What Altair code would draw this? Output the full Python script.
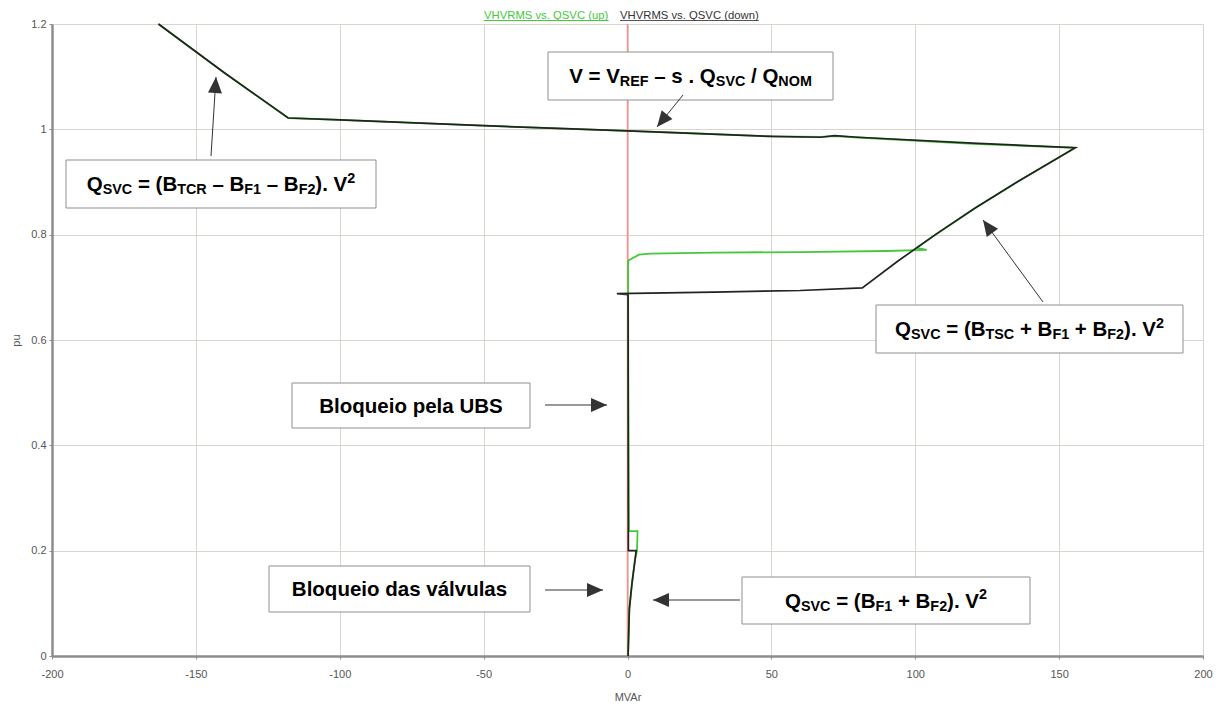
import math
import altair as alt
import pandas as pd

# ---------------- data ----------------
# "up" trajectory (green)
q_up = [0.2, 0.65, 1.6, 2.6, 3.3, 3.5, 0.5, 0.3, 0.2, 0.6, 4.0, 8.0, 30.0, 60.0, 90.0, 104.0,
        100.5, 107.0, 120.7, 135.4, 155.6, 120.0, 80.0, 72.0, 67.0, 50.0, 20.0, 0.0,
        -50.0, -100.0, -117.9, -140.0, -163.0]
v_up = [0.0, 0.09, 0.14, 0.182, 0.2, 0.237, 0.237, 0.5, 0.75, 0.752, 0.762, 0.764, 0.766, 0.767,
        0.769, 0.771, 0.775, 0.8, 0.85, 0.9, 0.965, 0.9725, 0.9845, 0.987, 0.9855, 0.9865, 0.993, 0.997,
        1.007, 1.018, 1.0215, 1.107, 1.2]

# "down" trajectory (black)
q_down = [-163.0, -140.0, -117.9, -100.0, -50.0, 0.0, 50.0, 67.0, 72.0, 80.0, 120.0, 155.6,
          135.4, 120.7, 107.0, 94.0, 81.6, 60.0, 30.0, -3.7, 0.2, 0.3, 3.0, 2.6, 1.6, 0.65, 0.2]
v_down = [1.2, 1.107, 1.0215, 1.018, 1.007, 0.997, 0.9866, 0.985, 0.988, 0.985, 0.974, 0.965,
          0.9, 0.85, 0.8, 0.75, 0.699, 0.694, 0.691, 0.688, 0.686, 0.2, 0.2, 0.182, 0.14, 0.09, 0.0]

x_ticks = [-200, -150, -100, -50, 0, 50, 100, 150, 200]
y_ticks = [0, 0.2, 0.4, 0.6, 0.8, 1.0, 1.2]

legend_labels = ["VHVRMS vs. QSVC (up)", "VHVRMS vs. QSVC (down)"]

# annotation texts: list of (text, kind) with kind in {"n","sub","sup"}
ann_texts = [
    [("V = V", "n"), ("REF", "sub"), (" \u2013 s . Q", "n"), ("SVC", "sub"), (" / Q", "n"), ("NOM", "sub")],
    [("Q", "n"), ("SVC", "sub"), (" = (B", "n"), ("TCR", "sub"), (" \u2013 B", "n"), ("F1", "sub"),
     (" \u2013 B", "n"), ("F2", "sub"), ("). V", "n"), ("2", "sup")],
    [("Q", "n"), ("SVC", "sub"), (" = (B", "n"), ("TSC", "sub"), (" + B", "n"), ("F1", "sub"),
     (" + B", "n"), ("F2", "sub"), ("). V", "n"), ("2", "sup")],
    [("Bloqueio pela UBS", "n")],
    [("Bloqueio das v\u00e1lvulas", "n")],
    [("Q", "n"), ("SVC", "sub"), (" = (B", "n"), ("F1", "sub"), (" + B", "n"), ("F2", "sub"),
     ("). V", "n"), ("2", "sup")],
]

# ---------------- layout (page pixels) ----------------
X0, Y0, W, H = 52, 24, 1151, 632
XMIN, XMAX, YMIN, YMAX = -200, 200, 0, 1.2


def q_of(px):
    return XMIN + (px - X0) / W * (XMAX - XMIN)


def v_of(py):
    return YMAX - (py - Y0) / H * (YMAX - YMIN)


boxes = [  # x1, y1, x2, y2
    (548, 52, 833, 100),
    (66, 160, 376, 208),
    (876, 305, 1183, 353),
    (292, 383, 530, 428),
    (269, 566, 530, 612),
    (742, 577, 1030, 624),
]
arrows = [  # tail -> tip
    ((683, 95), (657, 127)),
    ((211, 156), (216, 77)),
    ((1043, 302), (983, 220)),
    ((545, 405), (607, 405)),
    ((545, 590), (603, 590)),
    ((740, 600), (653, 600)),
]

BOLD = {" ": 278, "(": 333, ")": 333, "+": 584, ".": 278, "/": 278, "1": 556,
        "2": 556, "=": 584, "B": 722, "C": 722, "E": 667, "F": 611, "M": 833, "N": 722, "O": 778,
        "Q": 778, "R": 722, "S": 667, "T": 611, "U": 722, "V": 667, "s": 556, "\u2013": 556,
        "l": 278, "o": 611, "q": 611, "u": 611, "e": 556, "i": 278, "p": 611, "a": 556,
        "d": 611, "v": 556, "\u00e1": 556}
REG = {"V": 667, "H": 722, "R": 722, "M": 833, "S": 667, " ": 278, "v": 500, "s": 500, ".": 278,
       "Q": 778, "C": 722, "(": 333, ")": 333, "u": 556, "p": 556, "d": 556, "o": 556, "w": 722,
       "n": 556}


def width(txt, fs, table):
    return sum(table.get(c, 600) for c in txt) / 1000.0 * fs


F = 20.5
SUBR = 0.7
seg_rows = []
for (x1, y1, x2, y2), segs in zip(boxes, ann_texts):
    sizes = [F if k == "n" else F * SUBR for _, k in segs]
    total = sum(width(t, s, BOLD) for (t, _), s in zip(segs, sizes))
    cx, cy = (x1 + x2) / 2, (y1 + y2) / 2
    x = cx - total / 2
    base = cy + 0.36 * F
    for (t, k), s in zip(segs, sizes):
        lead = len(t) - len(t.lstrip(" "))
        trail = len(t) - len(t.rstrip(" "))
        core = t.strip(" ")
        x += lead * width(" ", s, BOLD)
        yb = base + (3 if k == "sub" else (-0.42 * F if k == "sup" else 0))
        seg_rows.append({"Q": q_of(x), "V": v_of(yb), "t": core, "fs": s})
        x += width(core, s, BOLD) + trail * width(" ", s, BOLD)
seg_df = pd.DataFrame(seg_rows)

box_df = pd.DataFrame([{"Q": q_of(a), "Q2": q_of(c), "V": v_of(b), "V2": v_of(d)}
                       for a, b, c, d in boxes])
shaft_df = pd.DataFrame([{"Q": q_of(t[0]), "V": v_of(t[1]), "Q2": q_of(h[0]), "V2": v_of(h[1])}
                         for t, h in arrows])
head_df = pd.DataFrame([{"Q": q_of(h[0]), "V": v_of(h[1]),
                         "ang": math.degrees(math.atan2(h[0] - t[0], -(h[1] - t[1]))) % 360}
                        for t, h in arrows])

# legend
LFS = 11.3
leg_rows, und_rows = [], []
lx = [484, 620]
for lab, x in zip(legend_labels, lx):
    w = width(lab, LFS, REG)
    leg_rows.append({"Q": q_of(x), "V": v_of(18.5), "t": lab})
    und_rows.append({"Q": q_of(x), "Q2": q_of(x + w), "V": v_of(20.5)})
leg_df = pd.DataFrame(leg_rows)
und_df = pd.DataFrame(und_rows)

GREEN = "#45c83a"
BLACK = "#222222"

xs = alt.Scale(domain=[XMIN, XMAX], nice=False, zero=False)
ys = alt.Scale(domain=[YMIN, YMAX], nice=False, zero=False)

up_df = pd.DataFrame({"Q": q_up, "V": v_up, "i": range(len(q_up))})
down_df = pd.DataFrame({"Q": q_down, "V": v_down, "i": range(len(q_down))})

xaxis = alt.Axis(values=x_ticks, title="MVAr", grid=True, labelFlush=False,
                 labelExpr="datum.value + ''")
yaxis = alt.Axis(values=y_ticks, title="pu", grid=True, format=".1~f", labelFlush=False)

zero_line = alt.Chart(pd.DataFrame({"Q": [0.0]})).mark_rule(color="#ff8a8a", strokeWidth=1.4).encode(
    x=alt.X("Q:Q", scale=xs, axis=xaxis))

green = alt.Chart(up_df).mark_line(color=GREEN, strokeWidth=1.8).encode(
    x=alt.X("Q:Q", scale=xs), y=alt.Y("V:Q", scale=ys, axis=yaxis), order="i:Q")
black = alt.Chart(down_df).mark_line(color=BLACK, strokeWidth=1.7).encode(
    x=alt.X("Q:Q", scale=xs), y=alt.Y("V:Q", scale=ys), order="i:Q")

rects = alt.Chart(box_df).mark_rect(fill="white", stroke="#8f8f8f", strokeWidth=1).encode(
    x="Q:Q", x2="Q2", y="V:Q", y2="V2")
shafts = alt.Chart(shaft_df).mark_rule(color="#333333", strokeWidth=1).encode(
    x="Q:Q", x2="Q2", y="V:Q", y2="V2")
heads = alt.Chart(head_df).mark_point(
    shape="M0,0 L-0.7,1.6 L0.7,1.6 Z", filled=True, size=400, color="#333333", opacity=1,
    strokeWidth=0).encode(x="Q:Q", y="V:Q", angle=alt.Angle("ang:Q", scale=None))
texts = alt.Chart(seg_df).mark_text(align="left", baseline="alphabetic", font="Arial",
                                    fontWeight="bold", color="black").encode(
    x="Q:Q", y="V:Q", text="t:N", size=alt.Size("fs:Q", scale=None))

leg_text = alt.Chart(leg_df).mark_text(align="left", baseline="alphabetic", font="Arial",
                                       fontSize=LFS).encode(
    x="Q:Q", y="V:Q", text="t:N",
    color=alt.Color("t:N", scale=alt.Scale(domain=legend_labels, range=[GREEN, "#333333"]), legend=None))
leg_und = alt.Chart(und_df).mark_rule(strokeWidth=1).encode(
    x="Q:Q", x2="Q2", y="V:Q",
    color=alt.value("#555555"))
leg_und_up = alt.Chart(und_df.iloc[[0]]).mark_rule(strokeWidth=1, color=GREEN).encode(
    x="Q:Q", x2="Q2", y="V:Q")

chart = alt.layer(zero_line, green, black, rects, shafts, heads, texts, leg_und, leg_und_up, leg_text).properties(
    width=W, height=H,
    autosize=alt.AutoSizeParams(type="none"),
    padding={"left": X0 - 8, "top": Y0 - 8, "right": 10, "bottom": 45},
).configure_view(strokeWidth=0).configure_axis(
    gridColor="#d9d5cd", gridWidth=1, domainColor="#8c8c8c", domainWidth=2.5,
    tickColor="#8c8c8c", tickSize=3, labelFont="Arial", labelFontSize=11, labelColor="#555555",
    titleFont="Arial", titleFontSize=11, titleFontWeight="normal", titleColor="#555555",
).configure_axisX(labelPadding=9, titlePadding=12).configure_axisY(labelPadding=3, titlePadding=9)

chart.save("out.html", embed_options={"renderer": "svg", "actions": False})
